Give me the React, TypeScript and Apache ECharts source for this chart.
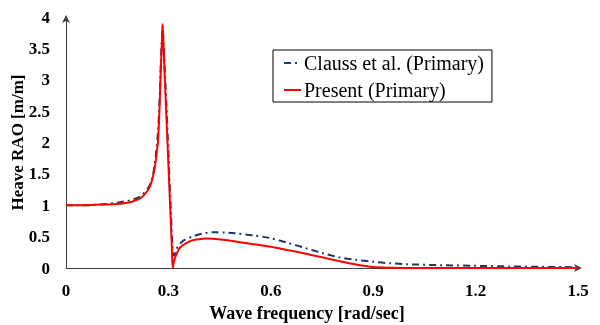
import React, { useEffect, useRef } from "react";
import * as echarts from "echarts";

// Present (Primary)
const freqPresent = [0, 0.05, 0.1, 0.15, 0.18, 0.2, 0.22, 0.24, 0.25, 0.26, 0.265, 0.27, 0.275, 0.278, 0.281, 0.283, 0.286, 0.29, 0.295, 0.3, 0.305, 0.31, 0.3126, 0.316, 0.32, 0.327, 0.335, 0.35, 0.37, 0.39, 0.41, 0.43, 0.46, 0.5, 0.55, 0.6, 0.65, 0.7, 0.75, 0.8, 0.85, 0.9, 0.95, 1.0, 1.1, 1.2, 1.3, 1.4, 1.5];
const raoPresent = [1.0, 1.0, 1.01, 1.02, 1.04, 1.07, 1.12, 1.24, 1.36, 1.6, 1.8, 2.05, 2.7, 3.2, 3.6, 3.89, 3.5, 2.95, 2.3, 1.65, 1.0, 0.35, 0.0, 0.1, 0.17, 0.26, 0.33, 0.39, 0.44, 0.46, 0.47, 0.465, 0.45, 0.42, 0.38, 0.34, 0.285, 0.23, 0.17, 0.11, 0.055, 0.015, 0.004, 0.001, 0, 0, 0, 0, 0];

// Clauss et al. (Primary)
const freqClauss = [0, 0.05, 0.1, 0.15, 0.18, 0.2, 0.22, 0.24, 0.25, 0.26, 0.265, 0.27, 0.275, 0.278, 0.281, 0.283, 0.286, 0.29, 0.295, 0.3, 0.305, 0.31, 0.3135, 0.317, 0.322, 0.33, 0.345, 0.37, 0.4, 0.43, 0.47, 0.5, 0.55, 0.6, 0.65, 0.7, 0.75, 0.8, 0.85, 0.9, 0.95, 1.0, 1.1, 1.2, 1.3, 1.4, 1.5];
const raoClauss = [1.0, 1.0, 1.01, 1.04, 1.07, 1.1, 1.15, 1.27, 1.38, 1.65, 1.9, 2.2, 2.8, 3.3, 3.65, 3.85, 3.55, 3.1, 2.5, 1.85, 1.2, 0.55, 0.22, 0.2, 0.28, 0.36, 0.44, 0.5, 0.55, 0.57, 0.565, 0.55, 0.52, 0.475, 0.4, 0.32, 0.24, 0.17, 0.13, 0.1, 0.075, 0.06, 0.045, 0.035, 0.025, 0.018, 0.012];

const seriesNames = ["Clauss et al. (Primary)", "Present (Primary)"];
const xTicks = { min: 0, max: 1.5, interval: 0.3 };
const yTicks = { min: 0, max: 4, interval: 0.5 };

const serif = "Liberation Serif";

export default function App() {
  const ref = useRef<HTMLDivElement>(null);
  useEffect(() => {
    if (!ref.current) return;
    const chart = echarts.init(ref.current, undefined, { renderer: "svg" });
    const pair = (xs: number[], ys: number[]) => xs.map((x, i) => [x, ys[i]]);
    chart.setOption({
      animation: false,
      textStyle: { fontFamily: serif },
      grid: { left: 66, right: 22, top: 17, bottom: 57, containLabel: false, outerBoundsMode: "none" },
      legend: {
        orient: "vertical",
        left: 273,
        top: 50,
        padding: [3, 8, 2, 10],
        itemGap: 7,
        itemWidth: 17,
        itemHeight: 14,
        borderColor: "#000",
        borderWidth: 1,
        borderRadius: 0,
        itemStyle: { opacity: 0 },
        textStyle: { fontFamily: serif, fontSize: 20, color: "#000", padding: [0, 0, 0, -2] },
        data: seriesNames,
      },
      xAxis: {
        type: "value",
        min: xTicks.min,
        max: xTicks.max,
        interval: xTicks.interval,
        name: "Wave frequency [rad/sec]",
        nameLocation: "middle",
        nameGap: 36,
        nameMoveOverlap: false,
        nameTextStyle: { fontFamily: serif, fontSize: 18, fontWeight: "bold", color: "#000", padding: [0, 30, 0, 0] },
        axisLine: { show: true, symbol: ["none", "arrow"], symbolSize: [6, 8], symbolOffset: [0, 4], lineStyle: { color: "#404040", width: 1 } },
        axisTick: { show: false },
        splitLine: { show: false },
        axisLabel: {
          fontFamily: serif,
          fontSize: 17,
          fontWeight: "bold",
          color: "#000",
          margin: 14,
          formatter: (v: number) => String(parseFloat(v.toFixed(1))),
        },
      },
      yAxis: {
        type: "value",
        min: yTicks.min,
        max: yTicks.max,
        interval: yTicks.interval,
        name: "Heave RAO [m/m]",
        nameLocation: "middle",
        nameRotate: 90,
        nameGap: 40,
        nameMoveOverlap: false,
        nameTextStyle: { fontFamily: serif, fontSize: 17, fontWeight: "bold", color: "#000" },
        axisLine: { show: true, onZero: false, symbol: ["none", "arrow"], symbolSize: [6, 8], symbolOffset: [0, 2], lineStyle: { color: "#404040", width: 1 } },
        axisTick: { show: false },
        splitLine: { show: false },
        axisLabel: {
          fontFamily: serif,
          fontSize: 17,
          fontWeight: "bold",
          color: "#000",
          margin: 16,
          formatter: (v: number) => String(parseFloat(v.toFixed(1))),
        },
      },
      series: [
        {
          name: seriesNames[0],
          type: "line",
          data: pair(freqClauss, raoClauss),
          symbol: "none",
          smooth: 0.3,
          lineStyle: { color: "#1f3864", width: 2, type: [7, 4, 2, 4] },
          itemStyle: { color: "#1f3864" },
          z: 2,
        },
        {
          name: seriesNames[1],
          type: "line",
          data: pair(freqPresent, raoPresent),
          symbol: "none",
          smooth: 0.3,
          lineStyle: { color: "#ff0000", width: 2 },
          itemStyle: { color: "#ff0000" },
          z: 3,
        },
      ],
    });
    return () => chart.dispose();
  }, []);
  return <div ref={ref} style={{ position: "fixed", left: 0, top: 0, width: 600, height: 325 }} />;
}
